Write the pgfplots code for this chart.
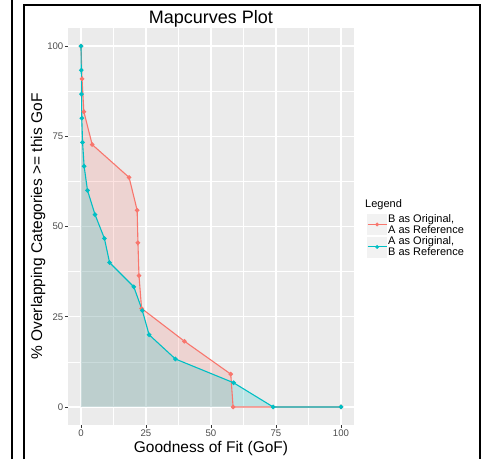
\documentclass[border=0pt]{standalone}
\usepackage{fontspec}
\setmainfont{Liberation Sans}
\usepackage{pgfplots}
\pgfplotsset{compat=1.18}
\definecolor{ggred}{HTML}{F8766D}
\definecolor{ggcyan}{HTML}{00BFC4}
\definecolor{ggbg}{HTML}{EBEBEB}
\definecolor{ggtick}{HTML}{4D4D4D}
\definecolor{ggtickline}{HTML}{333333}
\definecolor{ggkey}{HTML}{F2F2F2}
\begin{document}
\begin{tikzpicture}
\useasboundingbox (0pt,0pt) rectangle (493pt,459pt);
\draw[line width=1.8pt] (12pt,0pt) -- (12pt,459pt);
\draw[line width=1.8pt] (24pt,0pt) -- (24pt,454pt) -- (480pt,454pt) -- (480pt,0pt);
\begin{axis}[
  at={(68pt,34pt)}, anchor=south west,
  width=286pt, height=397pt, scale only axis,
  xmin=-5, xmax=105, ymin=-5, ymax=105,
  xtick={0,25,50,75,100}, ytick={0,25,50,75,100},
  minor tick num=1,
  grid=both,
  major grid style={white, line width=1.1pt},
  minor grid style={white, line width=0.5pt},
  axis background/.style={fill=ggbg},
  axis line style={draw=none},
  tick align=outside, xtick pos=left, ytick pos=left,
  major tick length=3pt, minor tick length=0pt,
  tick style={ggtickline, line width=0.6pt},
  ticklabel style={font=\fontsize{9.6}{10}\selectfont, text=ggtick},
  xticklabel style={inner sep=1.5pt},
  yticklabel style={inner sep=1.5pt},
  /pgf/number format/assume math mode=true,
  every axis title shift=0pt,
  title={Mapcurves Plot},
  title style={font=\fontsize{18}{20}\selectfont, at={(axis description cs:0.5,1)}, anchor=base, yshift=4.5pt},
  xlabel={Goodness of Fit (GoF)},
  ylabel={\% Overlapping Categories >= this GoF},
  every axis x label/.style={at={(axis description cs:0.5,0)}, anchor=center, yshift=-23pt, font=\fontsize{15.5}{17}\selectfont},
  every axis y label/.style={at={([xshift=-30pt]axis description cs:0,0.5)}, anchor=center, rotate=90, font=\fontsize{15.5}{17}\selectfont},
  legend style={at={(1.045,0.534)}, anchor=north west, draw=none, fill=none,
    font=\fontsize{11}{11}\selectfont, cells={align=left, anchor=west},
    row sep=0pt, inner sep=0pt, nodes={inner sep=1pt}},
  clip=false,
]
% fills
\addplot[draw=none, fill=ggred, fill opacity=0.2, forget plot] coordinates {
 (0,100) (0.4,90.9) (1.1,81.8) (4.3,72.7) (18.5,63.6) (21.6,54.5) (21.9,45.5)
 (22.3,36.4) (23.3,27.3) (39.8,18.2) (57.6,9.1) (58.5,0) (100,0) (0,0)};
\addplot[draw=none, fill=ggcyan, fill opacity=0.2, forget plot] coordinates {
 (0,100) (0.1,93.3) (0.2,86.7) (0.3,80) (0.6,73.3) (1.2,66.7) (2.5,60) (5.4,53.3)
 (9.0,46.7) (11.0,40) (20.3,33.3) (23.6,26.7) (26.2,20) (36.3,13.3) (58.7,6.7)
 (73.9,0) (100,0) (0,0)};
% lines
\addplot[ggred, line width=1.1pt, mark=*, mark size=1.7pt, mark options={draw=ggred, fill=ggred}, forget plot] coordinates {
 (0,100) (0.4,90.9) (1.1,81.8) (4.3,72.7) (18.5,63.6) (21.6,54.5) (21.9,45.5)
 (22.3,36.4) (23.3,27.3) (39.8,18.2) (57.6,9.1) (58.5,0) (100,0)};
\addplot[ggcyan, line width=1.1pt, mark=*, mark size=1.7pt, mark options={draw=ggcyan, fill=ggcyan}, forget plot] coordinates {
 (0,100) (0.1,93.3) (0.2,86.7) (0.3,80) (0.6,73.3) (1.2,66.7) (2.5,60) (5.4,53.3)
 (9.0,46.7) (11.0,40) (20.3,33.3) (23.6,26.7) (26.2,20) (36.3,13.3) (58.7,6.7)
 (73.9,0) (100,0)};
% legend
\addlegendimage{legend image code/.code={
  \fill[ggkey] (0pt,-10pt) rectangle (19pt,10pt);
  \draw[ggred, line width=1.1pt] (0pt,0pt) -- (19pt,0pt);
  \fill[ggred] (9.5pt,0pt) circle (1.7pt);}}
\addlegendentry{B as Original,\\A as Reference}
\addlegendimage{legend image code/.code={
  \fill[ggkey] (0pt,-10pt) rectangle (19pt,10pt);
  \draw[ggcyan, line width=1.1pt] (0pt,0pt) -- (19pt,0pt);
  \fill[ggcyan] (9.5pt,0pt) circle (1.7pt);}}
\addlegendentry{A as Original,\\B as Reference}
\node[anchor=base west, font=\fontsize{11}{13}\selectfont, inner sep=0pt] at (rel axis cs:1.0385,0.548) {Legend};
\end{axis}
\end{tikzpicture}
\end{document}
